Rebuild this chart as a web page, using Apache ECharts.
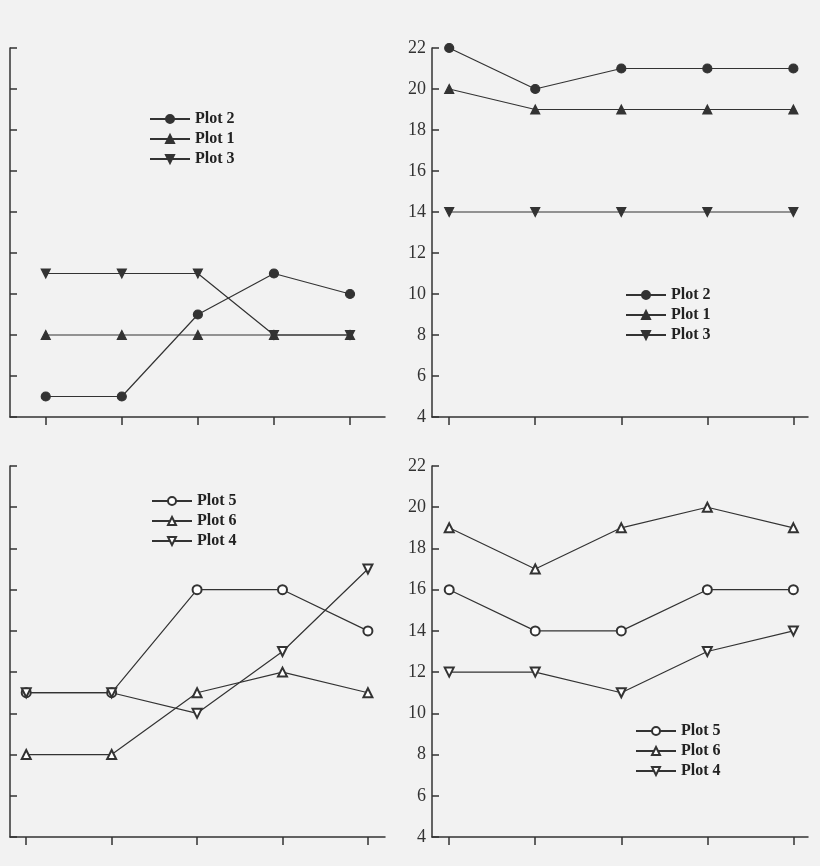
<!DOCTYPE html>
<html>
<head>
<meta charset="utf-8">
<script src="https://cdn.jsdelivr.net/npm/echarts@6/dist/echarts.min.js"></script>
<style>
html, body { margin: 0; padding: 0; background: #f2f2f2; }
#chart { width: 820px; height: 866px; }
</style>
</head>
<body>
<div id="chart"></div>
<script>
// x positions (5 points per plot)
var xPos = [0, 1, 2, 3, 4];

// top panels
var tlPlot2 = [5, 5, 9, 11, 10];
var tlPlot1 = [8, 8, 8, 8, 8];
var tlPlot3 = [11, 11, 11, 8, 8];
var trPlot2 = [22, 20, 21, 21, 21];
var trPlot1 = [20, 19, 19, 19, 19];
var trPlot3 = [14, 14, 14, 14, 14];

// bottom panels
var blPlot5 = [11, 11, 16, 16, 14];
var blPlot6 = [8, 8, 11, 12, 11];
var blPlot4 = [11, 11, 10, 13, 17];
var brPlot5 = [16, 14, 14, 16, 16];
var brPlot6 = [19, 17, 19, 20, 19];
var brPlot4 = [12, 12, 11, 13, 14];

var yMin = 4, yMax = 22, yStep = 2;
var ink = '#333';
var font = '"Liberation Serif", "DejaVu Serif", serif';

function pairs(vals) {
    return vals.map(function (v, i) { return [xPos[i], v]; });
}

function xAxis(grid, min, max) {
    return {
        type: 'value', gridIndex: grid, min: min, max: max, interval: 1,
        axisLine: { onZero: false, lineStyle: { color: ink, width: 1.5 } },
        axisTick: { show: true, length: 8, lineStyle: { color: ink, width: 1.5 }, customValues: xPos },
        axisLabel: { show: false },
        splitLine: { show: false }
    };
}

function yAxis(grid, labels) {
    return {
        type: 'value', gridIndex: grid, min: yMin, max: yMax, interval: yStep,
        axisLine: { show: true, onZero: false, lineStyle: { color: ink, width: 1.5 } },
        axisTick: { show: true, inside: true, length: 7, lineStyle: { color: ink, width: 1.5 } },
        axisLabel: { show: labels, color: ink, fontFamily: font, fontSize: 18, margin: 6 },
        splitLine: { show: false }
    };
}

function line(name, idx, vals, symbol, rotate) {
    return {
        name: name, type: 'line', xAxisIndex: idx, yAxisIndex: idx,
        data: pairs(vals), symbol: symbol, symbolSize: 9, symbolRotate: rotate || 0,
        lineStyle: { color: ink, width: 1.2 },
        itemStyle: { color: ink, borderColor: ink, borderWidth: 1.2 },
        animation: false
    };
}

function legend(names, left, top) {
    return {
        data: names, left: left, top: top, orient: 'vertical', itemGap: 4,
        itemWidth: 40, itemHeight: 10,
        textStyle: { color: '#222', fontFamily: font, fontSize: 16, fontWeight: 'bold' }
    };
}

var myChart = echarts.init(document.getElementById('chart'));
var option = {
    backgroundColor: '#f2f2f2',
    grid: [
        { left: 10, top: 48, width: 375, height: 369 },
        { left: 432, top: 48, width: 376, height: 369 },
        { left: 10, top: 466, width: 375, height: 371 },
        { left: 432, top: 466, width: 376, height: 371 }
    ],
    xAxis: [xAxis(0, -0.47, 4.46), xAxis(1, -0.2, 4.17), xAxis(2, -0.19, 4.2), xAxis(3, -0.2, 4.17)],
    yAxis: [yAxis(0, false), yAxis(1, true), yAxis(2, false), yAxis(3, true)],
    legend: [
        legend(['Plot 2', 'Plot 1', 'Plot 3'], 144, 106),
        legend(['Plot 2 ', 'Plot 1 ', 'Plot 3 '], 620, 282),
        legend(['Plot 5', 'Plot 6', 'Plot 4'], 146, 488),
        legend(['Plot 5 ', 'Plot 6 ', 'Plot 4 '], 630, 718)
    ],
    series: [
        line('Plot 2', 0, tlPlot2, 'circle'),
        line('Plot 1', 0, tlPlot1, 'triangle'),
        line('Plot 3', 0, tlPlot3, 'triangle', 180),
        line('Plot 2 ', 1, trPlot2, 'circle'),
        line('Plot 1 ', 1, trPlot1, 'triangle'),
        line('Plot 3 ', 1, trPlot3, 'triangle', 180),
        line('Plot 5', 2, blPlot5, 'emptyCircle'),
        line('Plot 6', 2, blPlot6, 'emptyTriangle'),
        line('Plot 4', 2, blPlot4, 'emptyTriangle', 180),
        line('Plot 5 ', 3, brPlot5, 'emptyCircle'),
        line('Plot 6 ', 3, brPlot6, 'emptyTriangle'),
        line('Plot 4 ', 3, brPlot4, 'emptyTriangle', 180)
    ]
};
myChart.setOption(option);
</script>
</body>
</html>
